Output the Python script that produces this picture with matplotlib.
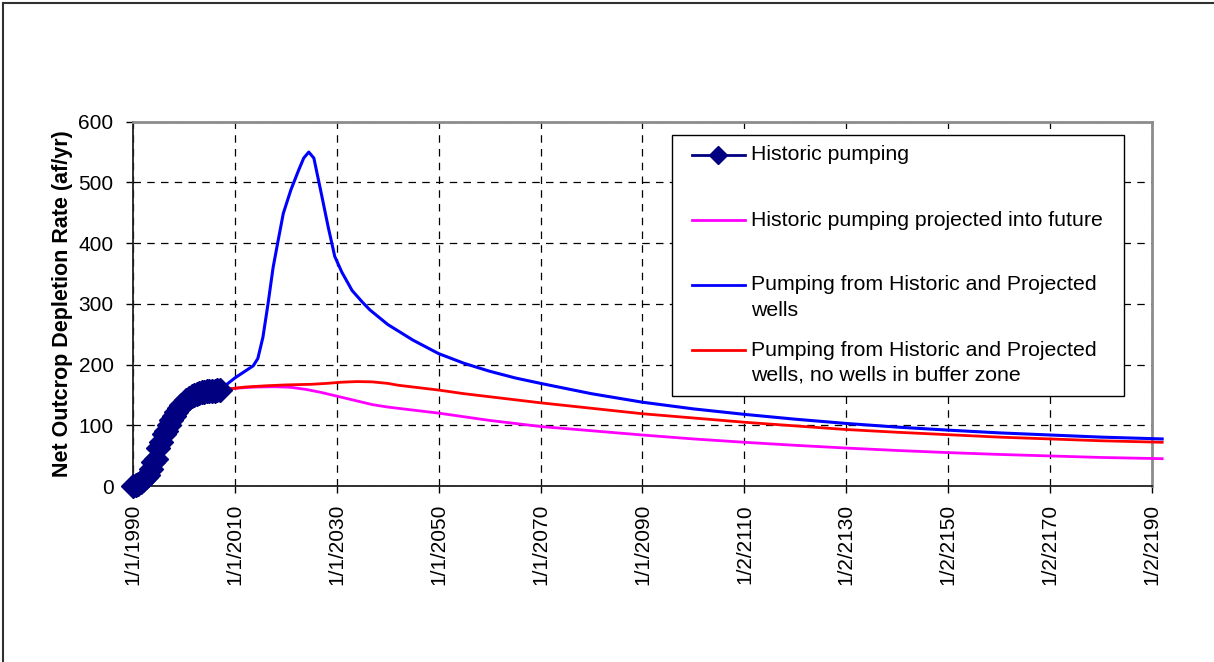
import numpy as np
import matplotlib
matplotlib.use("Agg")
import matplotlib.pyplot as plt
from matplotlib.lines import Line2D
from matplotlib.patches import Rectangle

plt.rcParams['font.family'] = ['Liberation Sans', 'DejaVu Sans']

# ---------------- data ----------------
hist_years = [1990.0, 1990.5, 1991.0, 1991.5, 1992.0, 1992.5, 1993.0, 1993.5, 1994.0,
              1994.5, 1995.0, 1995.5, 1996.0, 1996.5, 1997.0, 1997.5, 1998.0, 1998.5,
              1999.0, 1999.5, 2000.0, 2000.5, 2001.0, 2001.5, 2002.0, 2002.5, 2003.0,
              2003.5, 2004.0, 2004.5, 2005.0, 2005.5, 2006.0, 2006.5, 2007.0]
hist_vals = [0, 1, 3, 6, 10, 14, 18, 28, 40,
             45, 62, 72, 85, 90, 100, 108, 115, 122,
             128, 133, 137, 141, 145, 148, 150, 152, 153,
             154, 155, 156, 156, 157, 157, 158, 158]

proj_years = [2007, 2010, 2014, 2018, 2021, 2024, 2027, 2030, 2033, 2037, 2040, 2045,
              2050, 2060, 2070, 2080, 2090, 2100, 2110, 2120, 2130, 2140, 2150, 2160,
              2170, 2180, 2192]
proj_vals = [158, 161, 163, 163.5, 162.5, 159, 154, 148, 142, 134, 130, 125,
             120, 108, 98, 91, 84, 77.5, 72, 67, 62.5, 58.5, 55, 52,
             49.5, 47, 45]

wells_years = [2007, 2010, 2013.6, 2014.5, 2015.5, 2016.5, 2017.5, 2018.5, 2019.5, 2021,
               2022.5, 2023.5, 2024.5, 2025.5, 2027, 2028.3, 2029.6, 2031, 2033, 2035,
               2036.5, 2040, 2045, 2050, 2055, 2060, 2065, 2070, 2080, 2090, 2100,
               2110, 2120, 2130, 2140, 2150, 2160, 2170, 2180, 2190, 2192]
wells_vals = [158, 178, 198, 210, 245, 300, 360, 405, 449, 488,
              520, 540, 550, 540, 480, 427, 378, 352, 322, 303,
              290, 266, 240, 218, 202, 189, 178, 169, 152, 138, 127,
              118, 110, 103, 97, 92, 87.5, 84, 80.5, 78, 77.5]

buffer_years = [2007, 2009, 2012, 2016, 2020, 2025, 2028, 2031, 2034, 2037, 2040,
                2042, 2045, 2050, 2055, 2060, 2065, 2070, 2080, 2090, 2100, 2110,
                2120, 2130, 2140, 2150, 2160, 2170, 2180, 2192]
buffer_vals = [158, 160, 163, 165, 166.5, 167.5, 169, 171, 172, 171.5, 169,
               166, 163, 158, 152, 147, 142, 137, 128, 119, 112, 105,
               99, 93, 88.5, 84.5, 80.5, 77.5, 74.5, 72]

x_ticks = [1990, 2010, 2030, 2050, 2070, 2090, 2110, 2130, 2150, 2170, 2190]
x_labels = ["1/1/1990", "1/1/2010", "1/1/2030", "1/1/2050", "1/1/2070", "1/1/2090",
            "1/2/2110", "1/2/2130", "1/2/2150", "1/2/2170", "1/2/2190"]
y_ticks = [0, 100, 200, 300, 400, 500, 600]

legend_labels = ["Historic pumping",
                 "Historic pumping projected into future",
                 "Pumping from Historic and Projected\nwells",
                 "Pumping from Historic and Projected\nwells, no wells in buffer zone"]

# ---------------- figure ----------------
W, H = 1214, 662
fig = plt.figure(figsize=(W / 100, H / 100), dpi=100)

def fx(px):
    return px / W

def fy(py):
    return 1 - py / H

ax_l, ax_r, ax_t, ax_b = 133, 1152, 121.7, 486
ax = fig.add_axes([fx(ax_l), fy(ax_b), (ax_r - ax_l) / W, (ax_b - ax_t) / H])

ax.set_xlim(1990, 2190)
ax.set_ylim(0, 600)

ax.grid(True, color='black', linestyle=(0, (6, 5)), linewidth=0.9, zorder=0)
ax.set_axisbelow(True)

BLUE, RED, MAG, NAVY = '#0000FF', '#FF0000', '#FF00FF', '#000080'

ax.plot(proj_years, proj_vals, color=MAG, lw=2.0, clip_on=False, zorder=3)
ax.plot(buffer_years, buffer_vals, color=RED, lw=2.0, clip_on=False, zorder=4)
ax.plot(wells_years, wells_vals, color=BLUE, lw=2.2, clip_on=False, zorder=5)
ax.plot(hist_years, hist_vals, color=NAVY, lw=2.0, marker='D', markersize=12,
        markerfacecolor=NAVY, markeredgecolor=NAVY, clip_on=False, zorder=6)

ax.set_xticks(x_ticks)
ax.set_xticklabels(x_labels, rotation=90, fontsize=15)
ax.set_yticks(y_ticks)
ax.set_yticklabels([str(v) for v in y_ticks], fontsize=15)
ax.tick_params(axis='both', direction='out', length=5, width=1, color='black')
ax.tick_params(axis='x', pad=8)
ax.tick_params(axis='y', pad=9)

for s in ['left', 'bottom']:
    ax.spines[s].set_color('#202020')
    ax.spines[s].set_linewidth(1.3)
for s in ['top', 'right']:
    ax.spines[s].set_color('#8c8c8c')
    ax.spines[s].set_linewidth(2.0)

ax.set_ylabel("Net Outcrop Depletion Rate (af/yr)", fontsize=15.5, fontweight='bold',
              labelpad=4)

# ---------------- legend (manual, Excel-like) ----------------
lx0, lx1, ly0, ly1 = 671.7, 1124, 135, 396
fig.add_artist(Rectangle((fx(lx0), fy(ly1)), fx(lx1) - fx(lx0), fy(ly0) - fy(ly1),
                         transform=fig.transFigure, facecolor='white',
                         edgecolor='black', linewidth=1.0, zorder=10))
handle_x0, handle_x1, text_x = 691.7, 745, 750.7
rows = [155, 220, 285, 350]
colors = [NAVY, MAG, BLUE, RED]
for i, (yy, c, lab) in enumerate(zip(rows, colors, legend_labels)):
    fig.add_artist(Line2D([fx(handle_x0), fx(handle_x1)], [fy(yy), fy(yy)],
                          transform=fig.transFigure, color=c, lw=2.0, zorder=11))
    if i == 0:
        fig.add_artist(Line2D([fx((handle_x0 + handle_x1) / 2)], [fy(yy)],
                              transform=fig.transFigure, color=c, marker='D',
                              markersize=9, lw=0, zorder=12))
    for j, line in enumerate(lab.split("\n")):
        fig.text(fx(text_x), fy(yy + 25 * j), line, fontsize=15.3, va='center',
                 ha='left', zorder=12)

# outer chart border (only top/left visible in reference)
fig.add_artist(Line2D([fx(2.5), fx(2.5)], [fy(3), fy(H + 5)], transform=fig.transFigure,
                      color='#303030', lw=1.5))
fig.add_artist(Line2D([fx(2.5), fx(W + 5)], [fy(3), fy(3)], transform=fig.transFigure,
                      color='#303030', lw=1.5))

fig.savefig("out.png", dpi=100, facecolor='white')
